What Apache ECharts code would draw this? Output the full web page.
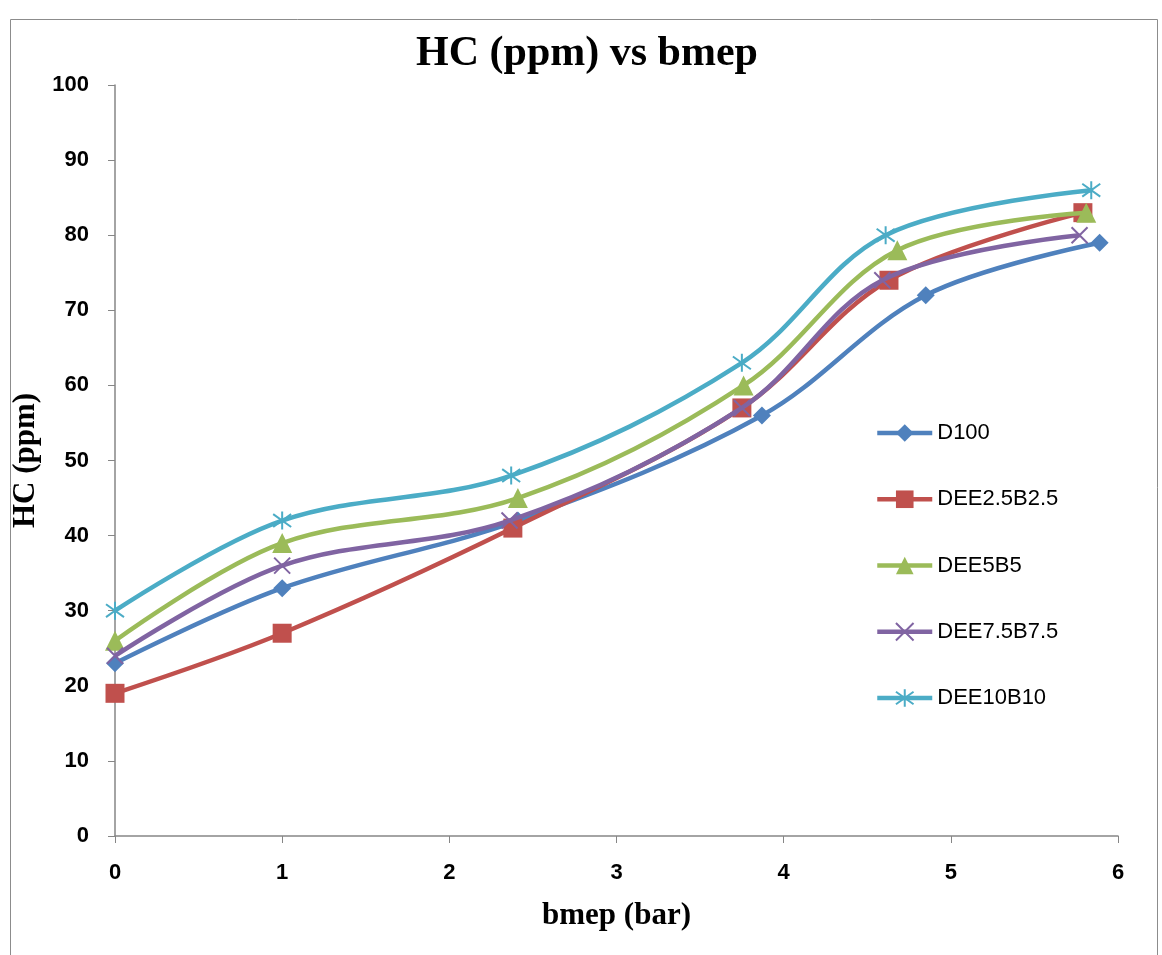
<!DOCTYPE html>
<html>
<head>
<meta charset="utf-8">
<script src="https://cdn.jsdelivr.net/npm/echarts@6/dist/echarts.min.js"></script>
<style>html,body{margin:0;padding:0;background:#fff}#c{width:1162px;height:955px}</style>
</head>
<body>
<div id="c"></div>
<script>
const seriesNames = ['D100', 'DEE2.5B2.5', 'DEE5B5', 'DEE7.5B7.5', 'DEE10B10'];
const d100 = [[0, 23], [1, 33], [2.41, 42], [3.87, 56], [4.85, 72], [5.89, 79]];
const dee25 = [[0, 19], [1, 27], [2.38, 41], [3.75, 57], [4.63, 74], [5.79, 83]];
const dee5 = [[0, 26], [1, 39], [2.41, 45], [3.76, 60], [4.68, 78], [5.81, 83]];
const dee75 = [[0, 24], [1, 36], [2.36, 42], [3.75, 57], [4.59, 74], [5.77, 80]];
const dee10 = [[0, 30], [1, 42], [2.37, 48], [3.75, 63], [4.61, 80], [5.84, 86]];
const xTicks = [0, 1, 2, 3, 4, 5, 6];
const yTicks = [0, 10, 20, 30, 40, 50, 60, 70, 80, 90, 100];

const colors = ['#4F81BD', '#C0504D', '#9BBB59', '#8064A2', '#4BACC6'];
const symbols = [
  'diamond',
  'rect',
  'triangle',
  'path://M0,0L10,10M10,0L0,10',
  'path://M0,0L10,10M10,0L0,10M5,-2L5,12'
];
const sizes = [18, 19, 20, 16, 18];
const allData = [d100, dee25, dee5, dee75, dee10];

const chart = echarts.init(document.getElementById('c'));
chart.setOption({
  animation: false,
  title: {
    text: 'HC (ppm) vs bmep',
    left: 582, top: 28, textAlign: 'center',
    textStyle: { fontFamily: 'Liberation Serif', fontWeight: 'bold', fontSize: 42, color: '#000' }
  },
  graphic: [{
    type: 'rect', shape: { x: 10.5, y: 19.5, width: 1147, height: 945 },
    style: { fill: 'none', stroke: '#8c8c8c', lineWidth: 1 }, silent: true
  }],
  grid: { left: 115, right: 44, top: 85, bottom: 119, containLabel: false },
  legend: {
    orient: 'vertical', left: 870, top: 417,
    itemWidth: 55, itemHeight: 22, itemGap: 44.25,
    lineStyle: { width: 4.5 },
    textStyle: { fontFamily: 'Liberation Sans', fontSize: 22, color: '#000' },
    data: seriesNames
  },
  xAxis: {
    type: 'value', min: 0, max: 6, interval: 1,
    name: 'bmep (bar)', nameLocation: 'middle', nameGap: 64,
    nameTextStyle: { fontFamily: 'Liberation Serif', fontWeight: 'bold', fontSize: 31, color: '#000' },
    axisLine: { show: true, lineStyle: { color: '#868686', width: 1.5 } },
    axisTick: { show: true, length: 7, lineStyle: { color: '#868686' } },
    axisLabel: { fontFamily: 'Liberation Sans', fontWeight: 'bold', fontSize: 22, color: '#000', margin: 26,
      formatter: v => xTicks.includes(v) ? String(v) : '' },
    splitLine: { show: false }
  },
  yAxis: {
    type: 'value', min: 0, max: 100, interval: 10,
    name: 'HC (ppm)', nameLocation: 'middle', nameGap: 67, nameRotate: 90,
    nameTextStyle: { fontFamily: 'Liberation Serif', fontWeight: 'bold', fontSize: 31, color: '#000' },
    axisLine: { show: true, lineStyle: { color: '#868686', width: 1.5 } },
    axisTick: { show: true, length: 7, lineStyle: { color: '#868686' } },
    axisLabel: { fontFamily: 'Liberation Sans', fontWeight: 'bold', fontSize: 22, color: '#000', margin: 26,
      formatter: v => yTicks.includes(v) ? String(v) : '' },
    splitLine: { show: false }
  },
  series: seriesNames.map((n, i) => ({
    name: n, type: 'line', data: allData[i], smooth: 0.35,
    symbol: symbols[i], symbolSize: sizes[i], showSymbol: true,
    lineStyle: { color: colors[i], width: 4.5 },
    itemStyle: { color: colors[i], borderColor: colors[i], borderWidth: i >= 3 ? 2 : 0 },
    z: 2 + i
  }))
});
</script>
</body>
</html>
